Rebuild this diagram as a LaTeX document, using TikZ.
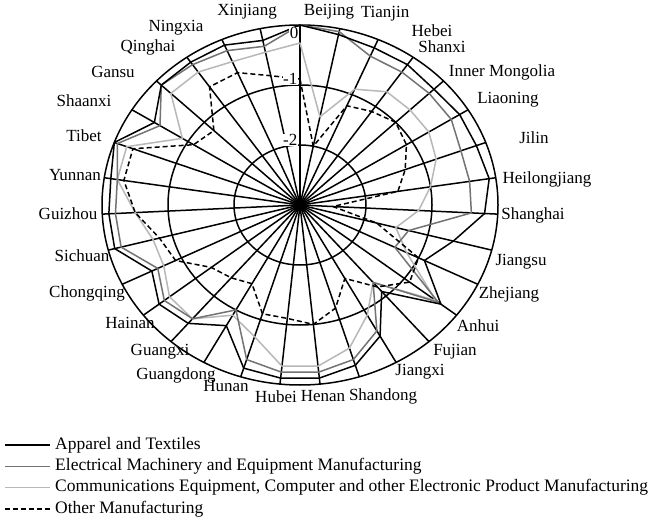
\documentclass[tikz,border=0pt]{standalone}
\usepackage{fontspec}
\setmainfont{Liberation Serif}
\newcommand\radarline[2]{%
  \gdef\pts{}%
  \foreach \v [count=\i from 0] in {#2}{%
    \pgfmathsetmacro\px{300+66*(\v+3)*sin(\i*360/31)}%
    \pgfmathsetmacro\py{205-60*(\v+3)*cos(\i*360/31)}%
    \ifnum\i=0 \xdef\pts{(\px,\py)}\else\xdef\pts{\pts -- (\px,\py)}\fi}%
  \edef\tmp{\noexpand\draw[#1] \pts -- cycle;}\tmp}
\begin{document}
\begin{tikzpicture}[x=1pt,y=-1pt,
  grid/.style={line width=1.5pt,black},
  lbl/.style={font=\fontsize{17}{19}\selectfont,inner sep=0pt},
  leg/.style={font=\fontsize{17.5}{19}\selectfont,inner sep=0pt},
  sA/.style={line width=1.5pt,black,line join=round},
  sB/.style={line width=1.5pt,black!55,line join=round},
  sC/.style={line width=1.5pt,black!28,line join=round},
  sD/.style={line width=1.5pt,black,dash pattern=on 5pt off 3pt,line join=round}]
\useasboundingbox (0,0) rectangle (650,521);
\fill[white] (0,0) rectangle (650,521);
% grid
\draw[grid] (300,205) ellipse [x radius=198, y radius=180];
\draw[grid] (300,205) ellipse [x radius=132, y radius=120];
\draw[grid] (300,205) ellipse [x radius=66, y radius=60];
\foreach \i in {0,...,30}{
  \draw[grid] (300,205) -- ({300+198*sin(\i*360/31)},{205-180*cos(\i*360/31)});
}
\fill (300,205) circle (6);
% labels
\foreach \n/\x/\y [count=\i from 0] in {Beijing/329/12,Tianjin/385/14,Hebei/432/31,Shanxi/442/47,Inner Mongolia/502/72,Liaoning/508/100,Jilin/534/138,Heilongjiang/547/179,Shanghai/533/215,Jiangsu/521/262,Zhejiang/509/294,Anhui/478/326,Fujian/455/352,Jiangxi/420/372,Shandong/383/396,Henan/323/396,Hubei/276/397,Hunan/226/386,Guangdong/176/375,Guangxi/160/352,Hainan/130/323,Chongqing/87/293,Sichuan/82/256,Guizhou/68/214,Yunnan/75/175,Tibet/84/136,Shaanxi/84/101,Gansu/113/72,Qinghai/148/47,Ningxia/176/28,Xinjiang/247/12}{
  \node[lbl] (p\i) at (\x,\y) {\n};
}
% data
\radarline{sC}{-0.3,-1.5,-0.9,-0.7,-0.7,-0.7,-0.8,-1.0,-1.2,-1.5,-1.2,-0.4,-1.3,-0.9,-0.5,-0.3,-0.3,-0.7,-0.9,-0.5,-0.5,-0.7,-0.7,-0.5,-0.2,-0.2,-0.9,-0.3,-0.3,-0.4,-0.4}
\radarline{sB}{0,-0.05,-0.3,-0.3,-0.3,-0.3,-0.4,-0.4,-0.4,-1.3,-1.4,-0.35,-1.3,-0.6,-0.3,-0.2,-0.2,-0.3,-1.0,-0.5,-0.4,-0.6,-0.2,-0.2,-0.2,-0.05,-0.5,-0.1,-0.15,-0.2,-0.3}
\radarline{sD}{-0.9,-2.0,-1.2,-1.1,-1.0,-1.1,-1.3,-1.5,-2.5,-1.8,-1.0,-0.9,-1.2,-1.6,-1.2,-1.0,-1.1,-1.1,-1.5,-1.4,-1.3,-0.9,-0.8,-0.5,-0.3,-0.3,-1.1,-1.2,-0.6,-0.6,-0.8}
\radarline{sA}{0,-0.1,-0.15,-0.15,-0.2,-0.15,-0.15,-0.1,-0.2,-0.6,-0.9,-0.3,-1.1,-0.5,-0.2,-0.1,-0.1,-0.15,-0.7,-0.4,-0.3,-0.5,-0.1,-0.1,-0.1,0,-0.4,-0.1,-0.1,-0.1,-0.2}
% axis values
\node[lbl,fill=white,inner sep=0.5pt,anchor=east] (t0) at (299,33) {0};
\node[lbl,fill=white,inner sep=0.5pt,anchor=east] (t1) at (298,79) {-1};
\node[lbl,fill=white,inner sep=0.5pt,anchor=east] (t2) at (298,140) {-2};
% legend
\foreach \s/\t [count=\k from 0] in {sA/Apparel and Textiles,sB/Electrical Machinery and Equipment Manufacturing,sC/{Communications Equipment, Computer and other Electronic Product Manufacturing},sD/Other Manufacturing}{
  \coordinate (la\k) at (5,{445+21.3*\k});
  \coordinate (lb\k) at (50,{445+21.3*\k});
  \draw[\s] (la\k) -- (lb\k);
  \node[leg,anchor=west] (lt\k) at (55,{445+21.3*\k}) {\t};
}
\end{tikzpicture}
\end{document}
